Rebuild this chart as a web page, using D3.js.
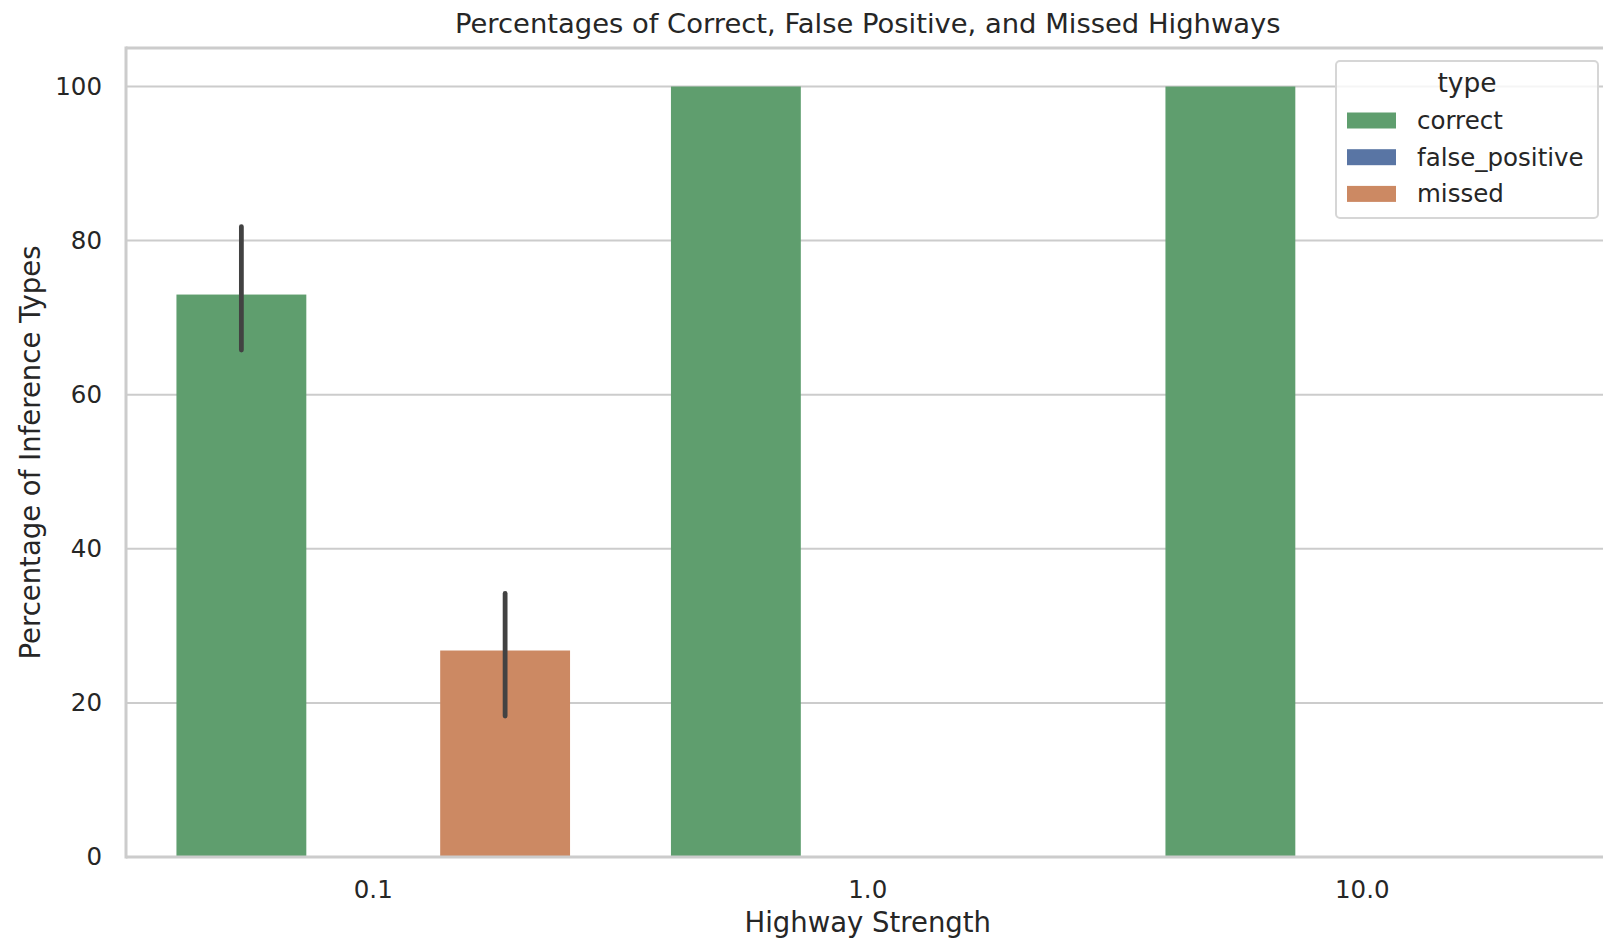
<!DOCTYPE html>
<html>
<head>
<meta charset="utf-8">
<script src="https://cdn.jsdelivr.net/npm/d3@7"></script>
<style>
  body { margin: 0; background: #fff; }
  text { font-family: "DejaVu Sans", sans-serif; fill: #262626; }
</style>
</head>
<body>
<script>
// data
const strengths = ['0.1', '1.0', '10.0'];
const types = ['correct', 'false_positive', 'missed'];
const correctPct = [73.0, 100, 100];
const falsePositivePct = [0, 0, 0];
const missedPct = [26.8, 0, 0];
const correctCI = [[65.8, 81.8], [100, 100], [100, 100]];
const falsePositiveCI = [[0, 0], [0, 0], [0, 0]];
const missedCI = [[18.3, 34.2], [0, 0], [0, 0]];
const yTicks = [0, 20, 40, 60, 80, 100];
const typeColors = ['#5f9e6e', '#5975a4', '#cc8963'];

const width = 1603;
const height = 944;
const plot = {left: 126, right: 1609.5, top: 48, bottom: 857};

const valuesByType = {correct: correctPct, false_positive: falsePositivePct, missed: missedPct};
const ciByType = {correct: correctCI, false_positive: falsePositiveCI, missed: missedCI};

const rows = [];
strengths.forEach((s, i) => {
  types.forEach(t => {
    rows.push({strength: s, type: t, value: valuesByType[t][i], lo: ciByType[t][i][0], hi: ciByType[t][i][1]});
  });
});

const svg = d3.select('body').append('svg')
  .attr('width', width)
  .attr('height', height);

svg.append('rect').attr('width', width).attr('height', height).attr('fill', '#fff');

// scales
const x = d3.scaleBand()
  .domain(strengths)
  .range([plot.left, plot.right])
  .paddingInner(0.2)
  .paddingOuter(0.1);

const xSub = d3.scaleBand()
  .domain(types)
  .range([0, x.bandwidth()]);

const y = d3.scaleLinear()
  .domain([0, 105])
  .range([plot.bottom, plot.top]);

const color = d3.scaleOrdinal().domain(types).range(typeColors);

// grid
svg.append('g').selectAll('line')
  .data(yTicks)
  .enter()
  .append('line')
  .attr('x1', plot.left)
  .attr('x2', width)
  .attr('y1', d => y(d))
  .attr('y2', d => y(d))
  .attr('stroke', '#cccccc')
  .attr('stroke-width', 2);

// bars
svg.append('g').selectAll('rect')
  .data(rows)
  .enter()
  .append('rect')
  .attr('x', d => x(d.strength) + xSub(d.type) + 1)
  .attr('width', xSub.bandwidth() - 2)
  .attr('y', d => y(d.value))
  .attr('height', d => y(0) - y(d.value))
  .attr('fill', d => color(d.type));

// error bars
svg.append('g').selectAll('line')
  .data(rows.filter(d => d.hi > d.lo))
  .enter()
  .append('line')
  .attr('x1', d => x(d.strength) + xSub(d.type) + xSub.bandwidth() / 2)
  .attr('x2', d => x(d.strength) + xSub(d.type) + xSub.bandwidth() / 2)
  .attr('y1', d => y(d.lo))
  .attr('y2', d => y(d.hi))
  .attr('stroke', '#424242')
  .attr('stroke-width', 4.8)
  .attr('stroke-linecap', 'round');

// spines
const spines = svg.append('g')
  .attr('stroke', '#cccccc')
  .attr('stroke-width', 3)
  .attr('fill', 'none');
spines.append('line').attr('x1', plot.left).attr('x2', width).attr('y1', plot.top).attr('y2', plot.top);
spines.append('line').attr('x1', plot.left).attr('x2', width).attr('y1', plot.bottom).attr('y2', plot.bottom);
spines.append('line').attr('x1', plot.left).attr('x2', plot.left).attr('y1', plot.top - 1.5).attr('y2', plot.bottom + 1.5);

// axes
const xAxisG = svg.append('g')
  .attr('transform', `translate(0, ${plot.bottom})`)
  .call(d3.axisBottom(x).tickSize(0).tickPadding(24));
xAxisG.select('.domain').remove();
xAxisG.selectAll('text').attr('font-size', '24.5px').style('font-family', '"DejaVu Sans", sans-serif').attr('fill', '#262626');

const yAxisG = svg.append('g')
  .attr('transform', `translate(${plot.left}, 0)`)
  .call(d3.axisLeft(y).tickValues(yTicks).tickSize(0).tickPadding(24));
yAxisG.select('.domain').remove();
yAxisG.selectAll('text').attr('font-size', '24.5px').style('font-family', '"DejaVu Sans", sans-serif').attr('fill', '#262626');

// labels
svg.append('text')
  .attr('x', (plot.left + plot.right) / 2)
  .attr('y', 33)
  .attr('text-anchor', 'middle')
  .attr('font-size', '27.4px')
  .text('Percentages of Correct, False Positive, and Missed Highways');

svg.append('text')
  .attr('x', (plot.left + plot.right) / 2)
  .attr('y', 932)
  .attr('text-anchor', 'middle')
  .attr('font-size', '27.5px')
  .text('Highway Strength');

svg.append('text')
  .attr('transform', `translate(40, ${(plot.top + plot.bottom) / 2}) rotate(-90)`)
  .attr('text-anchor', 'middle')
  .attr('font-size', '27.5px')
  .text('Percentage of Inference Types');

// legend
const legend = svg.append('g');
legend.append('rect')
  .attr('x', 1336)
  .attr('y', 61)
  .attr('width', 262)
  .attr('height', 157)
  .attr('rx', 4)
  .attr('fill', 'rgba(255,255,255,0.8)')
  .attr('stroke', '#d6d6d6')
  .attr('stroke-width', 2);

legend.append('text')
  .attr('x', 1467)
  .attr('y', 92)
  .attr('text-anchor', 'middle')
  .attr('font-size', '26.5px')
  .text('type');

const items = legend.selectAll('g.item')
  .data(types)
  .enter()
  .append('g')
  .attr('class', 'item')
  .attr('transform', (d, i) => `translate(0, ${120.5 + i * 36.7})`);

items.append('rect')
  .attr('x', 1347)
  .attr('y', -8)
  .attr('width', 49)
  .attr('height', 16)
  .attr('fill', d => color(d));

items.append('text')
  .attr('x', 1417)
  .attr('dy', '0.35em')
  .attr('font-size', '24.5px')
  .text(d => d);
</script>
</body>
</html>
